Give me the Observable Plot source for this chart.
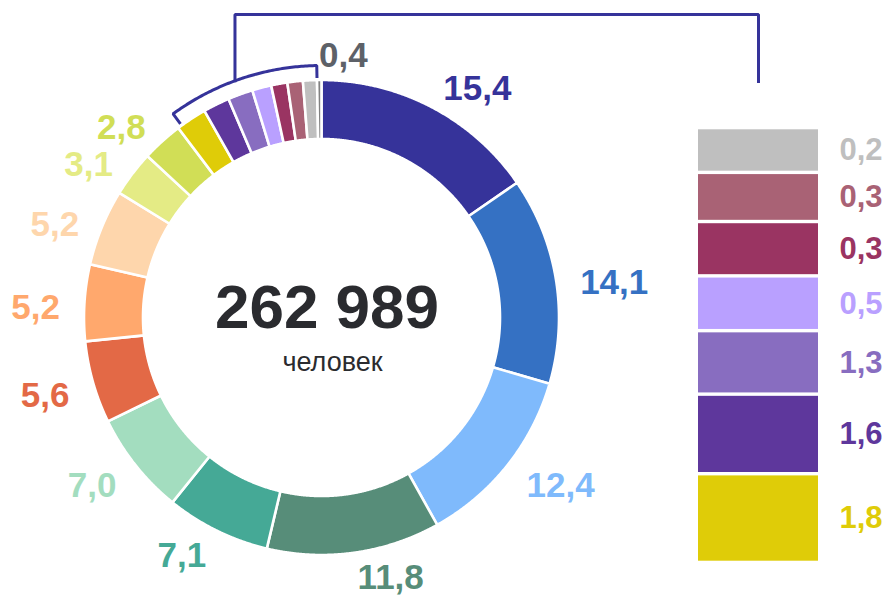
<!DOCTYPE html>
<html><head><meta charset="utf-8">
<script src="https://cdn.jsdelivr.net/npm/d3@7"></script>
<script src="https://cdn.jsdelivr.net/npm/@observablehq/plot@0.6"></script>
<style>
html,body{margin:0;padding:0;background:#fff;}
#chart{position:relative;width:889px;height:596px;overflow:hidden;font-family:"Liberation Sans",Arial,sans-serif;}
#chart svg{position:absolute;overflow:visible;}
</style></head><body><div id="chart"></div>
<script>
// ---- data ----
const values   = [15.4, 14.1, 12.4, 11.8, 7.1, 7.0, 5.6, 5.2, 5.2, 3.1, 2.8, 1.8, 1.6, 1.3, 0.5, 0.3, 0.3, 0.2, 0.4];
// share of the ring each slice visually occupies (%), small slices are enlarged in the picture
const arcShare = [15.4, 14.1, 12.4, 11.8, 7.1, 7.0, 5.6, 5.2, 5.2, 3.1, 2.8, 2.1, 1.8, 1.7, 1.3, 1.1, 1.05, 0.95, 0.3];
const colors   = ["#36339a", "#3571c3", "#7fbafc", "#578d79", "#45a996", "#a3ddbf", "#e36946", "#ffa86d", "#fed6ac",
                  "#e4eb85", "#d1de56", "#dfcc08", "#5e379c", "#886dc0", "#b9a0ff", "#9a3462", "#a96275", "#bfbfbf", "#808080"];
const labelColors = ["#36339a", "#3571c3", "#7fbafc", "#578d79", "#45a996", "#a3ddbf", "#e36946", "#ffa86d", "#fed6ac",
                  "#e4eb85", "#d1de56", "#dfcc08", "#5e379c", "#886dc0", "#b9a0ff", "#9a3462", "#a96275", "#bfbfbf", "#5d6168"];
// detail bar (top to bottom)
const barValues = [0.2, 0.3, 0.3, 0.5, 1.3, 1.6, 1.8];
const barShare  = [10.3, 11.3, 12.5, 12.6, 14.6, 18.3, 20.4]; // visual height share (%)
const barColors = ["#bfbfbf", "#a96275", "#9a3462", "#b9a0ff", "#886dc0", "#5e379c", "#dfcc08"];
const totalText = "262 989";
const unitText  = "человек";
const groupFirst = 11, groupLast = 17; // slices shown in the detail bar

// ---- layout ----
const W = 889, H = 596;
const cx = 321, cy = 317, rIn = 178.5, rOut = 237.5, rLab = 262, rBr = 252, rTick = 241;
const barLeft = 690, barTop = 100, barW = 199, barH = 480;
const barCenterX = 758, bracketTop = 14, bracketEnd = 81;
const navy = "#35339a";
const fmt = v => d3.format(".1f")(v).replace(".", ",");

let acc = 0;
const segs = values.map((v, i) => {
  const a0 = acc / 100 * 2 * Math.PI; acc += arcShare[i];
  const a1 = acc / 100 * 2 * Math.PI;
  return {i, v, label: fmt(v), color: colors[i], lc: labelColors[i], a0, a1, am: (a0 + a1) / 2};
});
const polar = (r, a) => [cx + r * Math.sin(a), cy - r * Math.cos(a)];

const ring = [];
for (const s of segs) {
  const n = Math.max(2, Math.ceil((s.a1 - s.a0) / 0.004));
  for (let k = 0; k <= n; k++) { const [x, y] = polar(rOut, s.a0 + (s.a1 - s.a0) * k / n); ring.push({id: s.i, color: s.color, x, y}); }
  for (let k = n; k >= 0; k--) { const [x, y] = polar(rIn, s.a0 + (s.a1 - s.a0) * k / n); ring.push({id: s.i, color: s.color, x, y}); }
}

// labels (slices in the detail group are labelled in the bar instead)
const labs = segs.filter(s => s.i < groupFirst || s.i > groupLast).map(s => {
  const [x, y] = polar(rLab, s.am);
  return {...s, x, y: y + 7 * Math.abs(Math.sin(s.am)), side: Math.sin(s.am) >= -0.05 ? "start" : "end"};
});

// bracket
const aS = segs[groupFirst].a0 + Math.PI / 180, aE = segs[groupLast].a1;
const br = [];
{ const [x, y] = polar(rTick, aS); br.push({g: 0, x, y}); }
for (let k = 0; k <= 80; k++) { const [x, y] = polar(rBr, aS + (aE - aS) * k / 80); br.push({g: 0, x, y}); }
{ const [x, y] = polar(rTick, aE); br.push({g: 0, x, y}); }
const aM = (segs[groupFirst].a0 + segs[groupLast].a1) / 2 - Math.PI / 180;
{ const [x, y] = polar(rBr, aM);
  br.push({g: 1, x, y}, {g: 1, x, y: bracketTop}, {g: 1, x: barCenterX, y: bracketTop}, {g: 1, x: barCenterX, y: bracketEnd}); }

const font = {fontFamily: "'Liberation Sans', Arial, sans-serif", fontWeight: "bold"};

const donut = Plot.plot({
  width: W, height: H, margin: 0,
  x: {domain: [0, W], range: [0, W], axis: null},
  y: {domain: [0, H], range: [0, H], axis: null},
  color: {type: "identity"},
  style: {fontFamily: "'Liberation Sans', Arial, sans-serif", background: "transparent"},
  marks: [
    Plot.line(ring, {x: "x", y: "y", z: "id", fill: "color", stroke: "white", strokeWidth: 2.6, curve: "linear-closed"}),
    Plot.line(br, {x: "x", y: "y", z: "g", stroke: navy, strokeWidth: 3, strokeLinejoin: "miter", strokeLinecap: "square"}),
    Plot.text(labs.filter(d => d.side === "start"), {x: "x", y: "y", text: "label", fill: "lc", textAnchor: "start", lineAnchor: "middle", fontSize: 35, ...font}),
    Plot.text(labs.filter(d => d.side === "end"), {x: "x", y: "y", text: "label", fill: "lc", textAnchor: "end", lineAnchor: "middle", fontSize: 35, ...font}),
    Plot.text([totalText], {x: () => cx + 5.5, y: () => cy + 10, text: d => d, fill: "#2a2b2f", textAnchor: "middle", lineAnchor: "bottom", fontSize: 62, ...font}),
    Plot.text([unitText], {x: () => cx + 11, y: () => cy + 53, text: d => d, fill: "#2a2b2f", textAnchor: "middle", lineAnchor: "bottom", fontSize: 27, fontFamily: "'Liberation Sans', Arial, sans-serif"})
  ]
});
donut.style.left = "0px"; donut.style.top = "0px";

const barData = barValues.map((v, i) => ({v, label: fmt(v), share: barShare[i], color: barColors[i]}));
const bar = Plot.plot({
  width: barW, height: barH,
  marginLeft: 8, marginRight: 71, marginTop: 27.6, marginBottom: 17.6,
  x: {domain: ["g"], padding: 0, axis: null},
  y: {domain: [0, d3.sum(barShare)], reverse: true, axis: null},
  color: {type: "identity"},
  style: {fontFamily: "'Liberation Sans', Arial, sans-serif", background: "transparent"},
  marks: [
    Plot.barY(barData, Plot.stackY({x: () => "g", y: "share", fill: "color", insetTop: 1.7, insetBottom: 1.7})),
    Plot.text(barData, Plot.stackY({x: () => "g", y: "share", text: "label", fill: "color", textAnchor: "end", lineAnchor: "middle", dx: 124, fontSize: 31, ...font}))
  ]
});
bar.style.left = barLeft + "px"; bar.style.top = barTop + "px";

const chart = document.getElementById("chart");
chart.append(donut, bar);
</script>
</body></html>
